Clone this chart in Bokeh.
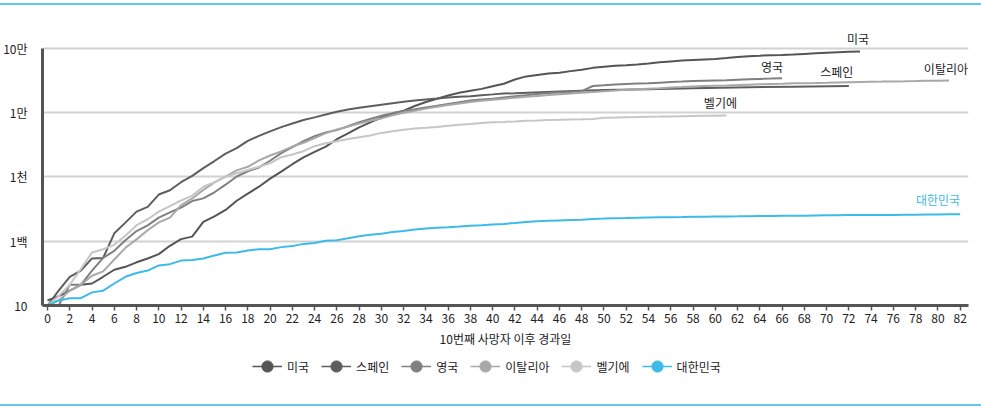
from bokeh.plotting import figure
from bokeh.layouts import column
from bokeh.models import FixedTicker, Legend, LegendItem, Label, Spacer
from bokeh.embed import file_html
from bokeh.resources import INLINE

# ---------------- data ----------------
countries = ["미국", "스페인", "영국", "이탈리아", "벨기에", "대한민국"]

us_deaths = [12, 14, 17, 21, 22, 28, 36, 40, 47, 54, 63, 85, 108, 118, 200, 244, 307, 427,
             552, 706, 942, 1209, 1581, 2026, 2467, 2978, 3873, 4757, 5926, 7087, 8407, 9619,
             10783, 12722, 14695, 16478, 18586, 20463, 22020, 23529, 25832, 28325, 32916,
             36773, 38664, 40661, 42094, 44444, 46622, 49954, 51949, 53755, 54881, 56259,
             58355, 60967, 62996, 64943, 66369, 67682, 68922, 71064, 73455, 75662, 77180,
             78795, 79526, 80682, 82356, 84119, 85898, 87530, 88754, 89562]

spain_days = list(range(43)) + [46, 50, 54, 58, 63, 67, 72]
spain_deaths = [10, 17, 28, 35, 54, 55, 133, 195, 289, 342, 533, 623, 830, 1043, 1375, 1772,
                2311, 2808, 3647, 4365, 5138, 5982, 6803, 7716, 8464, 9387, 10348, 11198,
                11947, 12641, 13341, 14045, 14792, 15447, 16081, 16606, 17209, 17756, 18056,
                18708, 19315, 20002, 20043, 21500, 22500, 23300, 24000, 24900, 25400, 26000]

uk_deaths = [10, 10, 21, 21, 35, 55, 71, 104, 144, 177, 233, 281, 335, 422, 465, 578, 759,
             1019, 1228, 1408, 1789, 2352, 2921, 3605, 4313, 4934, 5373, 6159, 7097, 7978,
             8958, 9875, 10612, 11329, 12107, 12868, 13729, 14576, 15464, 16060, 16509, 17337,
             18100, 18738, 19506, 20319, 20732, 21092, 21678, 26097, 26771, 27510, 28131,
             28446, 28734, 29427, 30076, 30615, 31241, 31587, 31855, 32065, 32692, 33186,
             33614, 33998, 34466]

italy_deaths = [10, 12, 17, 21, 29, 34, 52, 79, 107, 148, 197, 233, 366, 463, 631, 827, 1016,
                1266, 1441, 1809, 2158, 2503, 2978, 3405, 4032, 4825, 5476, 6077, 6820, 7503,
                8165, 9134, 10023, 10779, 11591, 12428, 13155, 13915, 14681, 15362, 15887,
                16523, 17127, 17669, 18279, 18849, 19468, 19899, 20465, 21067, 21645, 22170,
                22745, 23227, 23660, 24114, 24648, 25085, 25549, 25969, 26384, 26644, 26977,
                27359, 27682, 27967, 28236, 28710, 28884, 29079, 29315, 29684, 29958, 30201,
                30395, 30560, 30739, 30911, 31106, 31368, 31610, 31763]

belgium_deaths = [10, 14, 21, 37, 67, 75, 88, 122, 178, 220, 289, 353, 431, 513, 705, 828,
                  1011, 1143, 1283, 1447, 1632, 2035, 2240, 2523, 3019, 3346, 3600, 3903, 4157,
                  4440, 4857, 5163, 5453, 5683, 5828, 5998, 6262, 6490, 6679, 6917, 7094, 7207,
                  7331, 7501, 7594, 7703, 7765, 7844, 7924, 8016, 8339, 8415, 8521, 8581, 8656,
                  8707, 8761, 8843, 8903, 8959, 9005, 9052]

korea_deaths = [10, 12, 13, 13, 16, 17, 22, 28, 32, 35, 42, 44, 50, 51, 54, 60, 66, 67, 72, 75,
                75, 81, 84, 91, 94, 102, 104, 111, 120, 126, 131, 139, 144, 152, 158, 162, 165,
                169, 174, 177, 183, 186, 192, 200, 204, 208, 211, 214, 217, 222, 225, 229, 230,
                232, 234, 236, 237, 238, 240, 240, 242, 243, 244, 246, 247, 248, 250, 250, 250,
                252, 254, 255, 256, 256, 256, 256, 256, 258, 259, 260, 260, 262, 263]

x_ticks = list(range(0, 83, 2))
y_ticks = [10, 100, 1000, 10000, 100000]
y_tick_labels = ["10", "1백", "1천", "1만", "10만"]
x_axis_title = "10번째 사망자 이후 경과일"

# ---------------- styles ----------------
FONT = "Noto Sans CJK KR"
BLUE = "#3dbbe8"
RULE = "#62c8ee"
colors = ["#555555", "#5e5e5e", "#808080", "#a8a8a8", "#c6c6c6", BLUE]
label_offsets = [(-2, 13), (-12, 15), (-10, 12), (19, 12), (-6, 13), (0, 15)]
label_aligns = ["center", "center", "center", "right", "center", "right"]
label_colors = ["#222222"] * 5 + [BLUE]

series = [
    (list(range(len(us_deaths))), us_deaths),
    (spain_days, spain_deaths),
    (list(range(len(uk_deaths))), uk_deaths),
    (list(range(len(italy_deaths))), italy_deaths),
    (list(range(len(belgium_deaths))), belgium_deaths),
    (list(range(len(korea_deaths))), korea_deaths),
]

W = 981
MAIN_H = 347
LEG_H = 28

p = figure(width=W, height=MAIN_H, output_backend="svg", toolbar_location=None,
           y_axis_type="log", x_range=(-0.45, 82.75), y_range=(10, 236300),
           min_border_left=42, min_border_right=13, min_border_top=19,
           min_border_bottom=47)
p.outline_line_color = None
p.background_fill_color = "white"
p.border_fill_color = "white"

# axes
p.xaxis.ticker = FixedTicker(ticks=x_ticks)
p.xaxis.axis_line_width = 3
p.xaxis.axis_line_color = "#555555"
p.xaxis.major_tick_line_color = "#555555"
p.xaxis.major_tick_line_width = 1.5
p.xaxis.major_tick_out = 5
p.xaxis.major_tick_in = 0
p.xaxis.minor_tick_line_color = None
p.xaxis.major_label_text_font = FONT
p.xaxis.major_label_text_font_size = "12px"
p.xaxis.major_label_text_color = "#222222"
p.xaxis.major_label_standoff = 3
p.xaxis.axis_label = x_axis_title
p.xaxis.axis_label_text_font = FONT
p.xaxis.axis_label_text_font_size = "12px"
p.xaxis.axis_label_text_font_style = "normal"
p.xaxis.axis_label_text_color = "#222222"
p.xaxis.axis_label_standoff = 4

p.yaxis.ticker = FixedTicker(ticks=y_ticks)
p.yaxis.bounds = (y_ticks[0], y_ticks[-1])
p.yaxis.major_label_overrides = {t: s for t, s in zip(y_ticks, y_tick_labels)}
p.yaxis.axis_line_width = 3
p.yaxis.axis_line_color = "#555555"
p.yaxis.major_tick_line_color = None
p.yaxis.minor_tick_line_color = None
p.yaxis.major_label_text_font = FONT
p.yaxis.major_label_text_font_size = "12px"
p.yaxis.major_label_text_color = "#222222"
p.yaxis.major_label_standoff = 9

p.xgrid.visible = False
p.ygrid.ticker = FixedTicker(ticks=y_ticks[1:])
p.ygrid.grid_line_color = "#d2d2d2"
p.ygrid.grid_line_width = 2

for name, (xs, ys), c, (dx, dy), al, lc in zip(countries, series, colors, label_offsets,
                                               label_aligns, label_colors):
    p.line(xs, ys, line_color=c, line_width=2)
    p.add_layout(Label(x=xs[-1], y=ys[-1], text=name, x_offset=dx, y_offset=dy,
                       text_align=al, text_baseline="middle", text_font=FONT,
                       text_font_size="12px", text_color=lc))

# ---------------- legend strip ----------------
nan = float("nan")
lg = figure(width=W, height=LEG_H, output_backend="svg", toolbar_location=None,
            x_range=(0, 1), y_range=(0, 1), min_border=0,
            x_axis_type=None, y_axis_type=None)
lg.outline_line_color = None
lg.background_fill_color = "white"
lg.border_fill_color = "white"
items = []
for name, c in zip(countries, colors):
    r = lg.line(x=[nan], y=[nan], line_color=c, line_width=1.5)
    dot = lg.scatter(x=[nan], y=[nan], marker="circle", size=12, fill_color=c, line_color=c)
    items.append(LegendItem(label=name, renderers=[r, dot]))
legend = Legend(items=items, orientation="horizontal", location=(210, 0),
                border_line_color=None, background_fill_alpha=0,
                glyph_width=30, glyph_height=28, label_text_font=FONT,
                label_text_font_size="12px", label_text_color="#222222",
                spacing=12, padding=0, margin=0, label_standoff=5)
lg.add_layout(legend)


def rule_line():
    return Spacer(width=W, height=2, styles={"background-color": RULE})


layout = column(
    Spacer(width=W, height=3),
    rule_line(),
    p,
    lg,
    Spacer(width=W, height=409 - 3 - 2 - MAIN_H - LEG_H - 2 - 3),
    rule_line(),
    Spacer(width=W, height=3),
    spacing=0,
)

open("out.html", "w").write(file_html(layout, INLINE))
